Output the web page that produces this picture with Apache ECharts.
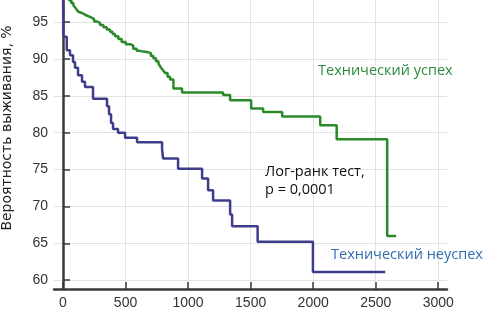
<!DOCTYPE html>
<html>
<head>
<meta charset="utf-8">
<script src="https://cdn.jsdelivr.net/npm/echarts@6/dist/echarts.min.js"></script>
<style>
  html, body { margin: 0; padding: 0; background: #fff; }
  #chart { width: 485px; height: 318px; }
</style>
</head>
<body>
<div id="chart"></div>
<script>
// Kaplan-Meier steps: [days, survival %]
const successTimes = [0, 48, 66, 83, 96, 109, 122, 136, 156, 176, 202, 229, 249, 269, 296, 323, 350, 376, 396, 416, 442, 469, 502, 536, 562, 589, 616, 643, 683, 703, 723, 743, 763, 776, 789, 803, 816, 836, 856, 883, 952, 1280, 1336, 1504, 1600, 1752, 2056, 2188, 2592, 2664];
const successValues = [100, 97.97, 97.6, 97.3, 97.0, 96.7, 96.4, 96.2, 96.0, 95.8, 95.6, 95.4, 95.1, 94.9, 94.6, 94.3, 94.0, 93.7, 93.4, 93.1, 92.7, 92.3, 92.0, 91.8, 91.4, 91.1, 91.0, 90.9, 90.8, 90.4, 90.1, 89.7, 89.4, 89.0, 88.7, 88.4, 88.1, 87.6, 87.2, 86.0, 85.45, 85.1, 84.4, 83.3, 82.8, 82.2, 81.0, 79.1, 66.0, 66.0];

const failureTimes = [0, 3, 30, 56, 80, 96, 120, 152, 176, 240, 352, 368, 384, 400, 440, 496, 592, 792, 800, 920, 1112, 1160, 1200, 1336, 1352, 1556, 1998, 2576];
const failureValues = [100, 93.0, 91.2, 90.5, 89.6, 88.8, 87.8, 86.9, 86.2, 84.6, 83.6, 82.5, 81.3, 80.5, 80.0, 79.3, 78.7, 77.7, 76.5, 75.1, 73.8, 72.2, 70.8, 68.9, 67.3, 65.2, 61.1, 61.1];

const xTicks = [0, 500, 1000, 1500, 2000, 2500, 3000];
const yTicks = [60, 65, 70, 75, 80, 85, 90, 95];

const successLabel = "Технический успех";
const failureLabel = "Технический неуспех";
const testLabel = ["Лог-ранк тест,", "p = 0,0001"];
const yName = "Вероятность выживания, %";

function pairs(xs, ys) {
  return xs.map((x, i) => [x, ys[i]]);
}

const chart = echarts.init(document.getElementById("chart"));

const axisLine = { show: true, lineStyle: { color: "#3a3a3a", width: 2.5 } };
const gridLine = { show: true, lineStyle: { color: "#e2e2e2", width: 1 } };
const tickStyle = { show: true, inside: true, length: 7, lineStyle: { color: "#3a3a3a", width: 1.5 } };
const labelFont = { color: "#333", fontFamily: "Liberation Sans", fontSize: 14, formatter: (v) => String(v) };

const option = {
  animation: false,
  grid: { left: 54, right: 38, top: 0, bottom: 29, containLabel: false, outerBoundsMode: "none" },
  xAxis: {
    type: "value",
    min: -72,
    max: 3070,
    axisLine: axisLine,
    axisTick: Object.assign({ customValues: xTicks }, tickStyle),
    splitLine: gridLine,
    axisLabel: Object.assign({ customValues: xTicks, margin: 7 }, labelFont),
  },
  yAxis: {
    type: "value",
    min: 58.8,
    max: 98,
    axisLine: axisLine,
    axisTick: Object.assign({ customValues: yTicks }, tickStyle),
    splitLine: gridLine,
    axisLabel: Object.assign({ customValues: yTicks, margin: 6 }, labelFont),
  },
  graphic: [
    {
      type: "text", x: 7, y: 128, rotation: Math.PI / 2, z: 100,
      style: { text: yName, fill: "#222", font: "14px 'DejaVu Sans'", align: "center", verticalAlign: "middle" },
    },
    {
      type: "text", x: 318, y: 71, z: 100,
      style: { text: successLabel, fill: "#2a8a3a", font: "14.5px 'Open Sans'", verticalAlign: "middle" },
    },
    {
      type: "text", x: 331, y: 255, z: 100,
      style: { text: failureLabel, fill: "#2f6db0", font: "14.5px 'Open Sans'", verticalAlign: "middle" },
    },
    {
      type: "text", x: 265, y: 172, z: 100,
      style: { text: testLabel[0], fill: "#111", font: "14.5px 'Open Sans'", verticalAlign: "middle" },
    },
    {
      type: "text", x: 265, y: 190, z: 100,
      style: { text: testLabel[1], fill: "#111", font: "14.5px 'Open Sans'", verticalAlign: "middle" },
    },
  ],
  series: [
    {
      name: successLabel,
      type: "line",
      step: "end",
      symbol: "none",
      data: pairs(successTimes, successValues),
      lineStyle: { color: "#2a8a2a", width: 2.5 },
    },
    {
      name: failureLabel,
      type: "line",
      step: "end",
      symbol: "none",
      data: pairs(failureTimes, failureValues),
      lineStyle: { color: "#3d3d8c", width: 2.5 },
    },
  ],
};

chart.setOption(option);
</script>
</body>
</html>
